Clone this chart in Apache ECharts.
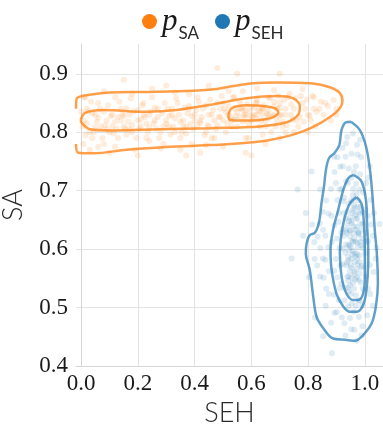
<!DOCTYPE html>
<html>
<head>
<meta charset="utf-8">
<script src="https://cdn.jsdelivr.net/npm/echarts@6/dist/echarts.min.js"></script>
<style>
  html, body { margin: 0; padding: 0; background: #fff; }
  #chart { width: 383px; height: 424px; }
</style>
</head>
<body>
<div id="chart"></div>
<script>
// Tick values for both axes
const xTicks = [0.0, 0.2, 0.4, 0.6, 0.8, 1.0];
const yTicks = [0.4, 0.5, 0.6, 0.7, 0.8, 0.9];

// Samples drawn from p_SA (SEH, SA)
const samplesSA = [
  [0.01,0.82],[0.03,0.80],[0.02,0.84],[0.05,0.83],[0.04,0.79],[0.07,0.81],[0.06,0.85],[0.09,0.82],[0.08,0.78],[0.11,0.83],
  [0.10,0.80],[0.12,0.86],[0.14,0.82],[0.13,0.79],[0.16,0.84],[0.15,0.81],[0.18,0.80],[0.17,0.83],[0.20,0.82],[0.19,0.77],
  [0.22,0.85],[0.21,0.81],[0.24,0.83],[0.23,0.79],[0.26,0.82],[0.25,0.86],[0.28,0.80],[0.27,0.84],[0.30,0.82],[0.29,0.78],
  [0.32,0.83],[0.31,0.81],[0.34,0.85],[0.33,0.80],[0.36,0.82],[0.35,0.79],[0.38,0.84],[0.37,0.81],[0.40,0.83],[0.39,0.78],
  [0.42,0.82],[0.41,0.86],[0.44,0.80],[0.43,0.84],[0.46,0.83],[0.45,0.81],[0.48,0.85],[0.47,0.79],[0.50,0.82],[0.49,0.84],
  [0.52,0.83],[0.51,0.80],[0.54,0.86],[0.53,0.82],[0.56,0.84],[0.55,0.81],[0.58,0.83],[0.57,0.87],[0.60,0.82],[0.59,0.79],
  [0.62,0.85],[0.61,0.83],[0.64,0.84],[0.63,0.81],[0.66,0.86],[0.65,0.82],[0.68,0.83],[0.67,0.80],[0.70,0.85],[0.69,0.82],
  [0.72,0.84],[0.71,0.81],[0.74,0.83],[0.73,0.86],[0.76,0.82],[0.75,0.84],[0.78,0.85],[0.80,0.83],[0.82,0.86],[0.84,0.84],
  [0.86,0.85],[0.02,0.815],[0.06,0.825],[0.09,0.805],[0.12,0.818],[0.15,0.828],[0.18,0.812],[0.21,0.822],[0.24,0.808],[0.27,0.826],
  [0.30,0.814],[0.33,0.824],[0.36,0.81],[0.39,0.828],[0.42,0.816],[0.45,0.83],[0.48,0.812],[0.51,0.834],[0.54,0.822],[0.57,0.838],
  [0.60,0.828],[0.63,0.836],[0.66,0.824],[0.69,0.84],[0.72,0.83],[0.58,0.825],[0.61,0.842],[0.64,0.83],[0.55,0.835],[0.05,0.808],
  [0.08,0.835],[0.11,0.81],[0.14,0.84],[0.17,0.805],[0.20,0.838],[0.23,0.815],[0.26,0.842],[0.29,0.81],[0.32,0.84],[0.35,0.818],
  [0.38,0.845],[0.41,0.812],[0.44,0.846],[0.47,0.82],[0.50,0.85],[0.53,0.81],[0.56,0.852],[0.59,0.815],[0.62,0.856],[0.65,0.81],
  [0.68,0.852],[0.71,0.818],[0.74,0.848],[0.77,0.826],[0.79,0.84],[0.81,0.82],[0.83,0.835],[0.03,0.77],[0.10,0.765],[0.20,0.76],
  [0.35,0.77],[0.50,0.775],[0.65,0.78],[0.80,0.80],[0.88,0.82],[0.55,0.90],[0.45,0.88],[0.25,0.875],[0.08,0.87],[0.60,0.76],
  [0.42,0.765],[0.01,0.86],[0.30,0.88],[0.70,0.79],[0.90,0.84],[0.48,0.91],[0.75,0.80],[0.04,0.832],[0.13,0.826],[0.22,0.83],
  [0.31,0.828],[0.40,0.82],[0.49,0.826],[0.62,0.822],[0.66,0.838],[0.57,0.818],[0.16,0.796],[0.37,0.798],[0.52,0.845],[0.70,0.828],
  [0.015,0.795],[0.035,0.852],[0.055,0.818],[0.075,0.79],[0.095,0.846],[0.115,0.798],[0.135,0.852],[0.155,0.806],[0.175,0.858],[0.195,0.79],
  [0.215,0.846],[0.235,0.80],[0.255,0.815],[0.275,0.79],[0.295,0.85],[0.315,0.796],[0.335,0.858],[0.355,0.80],[0.375,0.832],[0.395,0.806],
  [0.415,0.852],[0.435,0.795],[0.455,0.856],[0.475,0.805],[0.495,0.862],[0.515,0.815],[0.535,0.86],[0.545,0.828],[0.565,0.842],[0.575,0.83],
  [0.585,0.848],[0.595,0.836],[0.605,0.826],[0.615,0.85],[0.625,0.838],[0.635,0.82],[0.645,0.846],[0.655,0.832],[0.665,0.858],[0.675,0.828],
  [0.685,0.81],[0.695,0.862],[0.705,0.83],[0.715,0.855],[0.725,0.812],[0.735,0.866],[0.745,0.822],[0.755,0.858],[0.765,0.81],[0.775,0.862],
  [0.785,0.818],[0.795,0.856],[0.805,0.828],[0.815,0.862],[0.825,0.81],[0.845,0.852],[0.855,0.83],[0.87,0.845],[0.025,0.835],[0.045,0.80],
  [0.065,0.84],[0.085,0.812],[0.105,0.828],[0.125,0.806],[0.145,0.83],[0.165,0.818],[0.185,0.836],[0.205,0.806],[0.225,0.826],[0.245,0.836],
  [0.265,0.806],[0.285,0.832],[0.305,0.84],[0.325,0.81],[0.345,0.83],[0.365,0.842],[0.385,0.814],[0.405,0.838],[0.425,0.826],[0.445,0.812],
  [0.465,0.838],[0.485,0.826],[0.505,0.84],[0.525,0.826],[0.54,0.84],[0.56,0.826],[0.58,0.838],[0.60,0.844],[0.62,0.83],[0.64,0.84],
  [0.66,0.83],[0.68,0.844],[0.70,0.842],[0.005,0.81],[0.015,0.86],[0.0,0.835],[0.008,0.78],[0.12,0.775],[0.28,0.772],[0.44,0.778],
  [0.58,0.79],[0.72,0.80],[0.38,0.865],[0.18,0.866],[0.62,0.875],[0.78,0.874],[0.68,0.872],[0.52,0.87],[0.33,0.868],[0.06,0.775],
  [0.24,0.785],[0.46,0.79],[0.64,0.796],[0.82,0.84],[0.89,0.855],[0.90,0.83],[0.15,0.89],[0.70,0.90],[0.37,0.76],[0.58,0.765]
];

// Samples drawn from p_SEH (SEH, SA)
const samplesSEH = [
  [0.951,0.603],[0.962,0.618],[0.973,0.584],[0.938,0.641],[0.984,0.612],[0.947,0.562],[0.966,0.658],[0.977,0.627],[0.931,0.594],[0.989,0.571],
  [0.953,0.683],[0.958,0.542],[0.969,0.652],[0.942,0.607],[0.981,0.589],[0.964,0.578],[0.949,0.632],[0.972,0.551],[0.927,0.623],[0.992,0.643],
  [0.957,0.597],[0.936,0.572],[0.983,0.661],[0.944,0.528],[0.971,0.694],[0.961,0.639],[0.939,0.664],[0.986,0.543],[0.952,0.583],[0.974,0.611],
  [0.963,0.561],[0.932,0.652],[0.993,0.602],[0.948,0.654],[0.968,0.521],[0.943,0.553],[0.959,0.703],[0.979,0.624],[0.954,0.614],[0.976,0.672],
  [0.956,0.591],[0.967,0.613],[0.941,0.587],[0.978,0.628],[0.952,0.648],[0.963,0.557],[0.946,0.632],[0.974,0.574],[0.987,0.606],[0.934,0.608],
  [0.958,0.667],[0.962,0.676],[0.979,0.547],[0.941,0.546],[0.988,0.633],[0.951,0.523],[0.967,0.588],[0.973,0.653],[0.943,0.678],[0.937,0.577],
  [0.918,0.703],[0.909,0.662],[0.902,0.618],[0.921,0.574],[0.912,0.533],[0.928,0.512],[0.991,0.504],[1.004,0.553],[1.003,0.628],[0.994,0.697],
  [0.983,0.728],[0.951,0.722],[0.934,0.716],[0.968,0.742],[0.942,0.502],[0.961,0.493],[0.982,0.512],[0.898,0.583],[0.893,0.641],[0.911,0.602],
  [1.002,0.593],[1.011,0.657],[0.993,0.532],[0.922,0.634],[0.917,0.541],[0.884,0.612],[0.892,0.563],[0.903,0.684],[1.012,0.614],[0.927,0.688],
  [0.861,0.623],[0.852,0.584],[0.843,0.602],[0.872,0.661],[0.881,0.703],[0.893,0.732],[0.904,0.757],[0.921,0.773],[0.938,0.792],[0.953,0.763],
  [0.972,0.778],[0.987,0.757],[1.013,0.722],[1.021,0.684],[1.028,0.623],[1.031,0.561],[1.019,0.523],[1.008,0.487],[0.992,0.468],[0.963,0.462],
  [0.928,0.473],[0.901,0.492],[0.873,0.523],[0.854,0.551],[0.832,0.572],[0.822,0.612],[0.862,0.503],[0.881,0.474],[0.913,0.741],[0.864,0.683],
  [0.841,0.644],[0.958,0.798],[1.038,0.584],[0.932,0.452],[0.971,0.443],[0.782,0.623],[0.803,0.552],[0.763,0.702],[0.824,0.483],[0.792,0.662],
  [0.853,0.451],[0.742,0.584],[0.884,0.422],[1.052,0.643],[0.812,0.733],
  [0.947,0.622],[0.964,0.593],[0.975,0.603],[0.953,0.568],[0.961,0.627],[0.972,0.638],[0.944,0.598],[0.982,0.578],[0.957,0.662],[0.966,0.548],
  [0.971,0.566],[0.936,0.628],[0.984,0.644],[0.948,0.538],[0.963,0.671],[0.977,0.663],[0.942,0.581],[0.981,0.558],[0.954,0.644],[0.958,0.612],
  [0.951,0.572],[0.968,0.633],[0.946,0.606],[0.973,0.592],[0.958,0.692],[0.962,0.532],[0.944,0.648],[0.976,0.684],[0.987,0.568],[0.933,0.632],
  [0.952,0.551],[0.969,0.712],[0.978,0.512],[0.941,0.534],[0.984,0.672],[0.938,0.553],[0.926,0.662],[0.923,0.601],[0.917,0.628],[0.914,0.572],
  [0.907,0.647],[0.903,0.552],[0.993,0.663],[0.991,0.618],[1.003,0.612],[1.002,0.668],[0.929,0.534],[0.953,0.507],[0.968,0.503],[0.962,0.732],
  [0.941,0.713],[0.924,0.682],[0.922,0.742],[0.943,0.738],[0.981,0.702],[0.882,0.657],[0.871,0.603],[0.873,0.562],[0.891,0.522],[0.898,0.713],
  [0.908,0.513],[0.948,0.482],[0.979,0.484],[1.012,0.532],[1.018,0.573],[1.022,0.642],[1.004,0.713],[0.974,0.762],[0.932,0.758],[0.911,0.702],
  [0.861,0.582],[0.853,0.633],[0.834,0.621],[0.842,0.553],[0.864,0.532],[0.893,0.491],[0.919,0.483],[0.952,0.463],[0.988,0.452],[1.028,0.503],
  [1.041,0.602],[1.032,0.662],[1.017,0.742],[0.983,0.787],[0.934,0.781],[0.892,0.758],[0.852,0.664],[0.823,0.583],[0.814,0.642],[0.843,0.702]
];

// Density contour levels, outer to inner
const contourSA = [
  [[-0.018,0.84],[-0.015,0.858],[0.043,0.865],[0.102,0.868],[0.219,0.869],[0.395,0.871],[0.478,0.874],[0.536,0.879],[0.607,0.884],
   [0.689,0.885],[0.806,0.884],[0.877,0.877],[0.912,0.867],[0.921,0.853],[0.912,0.841],[0.877,0.826],[0.818,0.809],[0.748,0.796],
   [0.630,0.784],[0.454,0.778],[0.278,0.774],[0.161,0.770],[0.043,0.764],[-0.010,0.765],[-0.018,0.78]],
  [[-0.001,0.821],[0.014,0.833],[0.079,0.838],[0.231,0.835],[0.337,0.838],[0.454,0.847],[0.583,0.858],[0.689,0.862],[0.748,0.858],
   [0.771,0.844],[0.765,0.830],[0.724,0.817],[0.630,0.810],[0.454,0.807],[0.278,0.805],[0.102,0.803],[0.032,0.805],[0.002,0.816],[-0.001,0.821]],
  [[0.519,0.828],[0.531,0.841],[0.583,0.846],[0.642,0.845],[0.683,0.841],[0.695,0.834],[0.677,0.826],[0.630,0.821],[0.571,0.820],
   [0.525,0.821],[0.519,0.828]]
];
const contourSEH = [
  [[0.951,0.818],[0.982,0.804],[1.004,0.776],[1.018,0.736],[1.027,0.690],[1.035,0.633],[1.043,0.587],[1.046,0.542],[1.039,0.502],
   [1.024,0.473],[0.994,0.453],[0.965,0.443],[0.930,0.445],[0.888,0.447],[0.853,0.465],[0.830,0.484],[0.818,0.519],[0.806,0.564],
   [0.792,0.593],[0.795,0.610],[0.806,0.624],[0.824,0.628],[0.839,0.647],[0.847,0.678],[0.856,0.707],[0.863,0.736],[0.874,0.756],
   [0.894,0.765],[0.910,0.778],[0.918,0.804],[0.933,0.817],[0.951,0.818]],
  [[0.959,0.727],[0.988,0.716],[1.004,0.684],[1.008,0.639],[1.012,0.593],[1.008,0.542],[0.996,0.507],[0.971,0.493],[0.947,0.493],
   [0.924,0.502],[0.900,0.524],[0.883,0.564],[0.879,0.599],[0.888,0.633],[0.906,0.667],[0.924,0.701],[0.941,0.721],[0.959,0.727]],
  [[0.971,0.689],[0.988,0.678],[0.996,0.650],[1.000,0.599],[1.000,0.553],[0.994,0.524],[0.976,0.513],[0.959,0.513],[0.935,0.524],
   [0.918,0.553],[0.912,0.593],[0.918,0.627],[0.930,0.656],[0.947,0.678],[0.971,0.689]]
];

const ORANGE = '#ff7f0e';
const BLUE = '#1f77b4';
const SERIF = "'Liberation Serif', 'DejaVu Serif', 'Times New Roman', serif";

function contourSeries(levels, color, tag) {
  return levels.map((pts, i) => ({
    name: tag + '-level-' + i,
    type: 'line',
    data: pts,
    showSymbol: false,
    smooth: 0.35,
    silent: true,
    z: 5,
    lineStyle: { color: color, width: 2.5 },
    clip: true
  }));
}

const chart = echarts.init(document.getElementById('chart'), null, { renderer: 'canvas' });

const tickLabelStyle = {
  fontFamily: SERIF,
  fontSize: 23,
  color: '#1a1a1a'
};
const nameStyle = {
  fontFamily: 'Lato',
  fontWeight: 300,
  fontSize: 27,
  color: '#2a2a2a'
};

chart.setOption({
  animation: false,
  backgroundColor: '#fff',
  grid: { left: 76, right: 0, top: 44, bottom: 58, containLabel: false, outerBoundsMode: 'none' },
  legend: {
    left: 137,
    top: 1,
    icon: 'circle',
    itemWidth: 15,
    itemHeight: 15,
    itemGap: 16,
    data: [
      { name: 'p_SA', itemStyle: { opacity: 1, color: ORANGE } },
      { name: 'p_SEH', itemStyle: { opacity: 1, color: BLUE } }
    ],
    formatter: n => '{p|p}{s|' + n.split('_')[1] + '}',
    textStyle: {
      rich: {
        p: { fontFamily: SERIF, fontStyle: 'italic', fontSize: 31, color: '#1a1a1a', lineHeight: 30, verticalAlign: 'middle' },
        s: { fontFamily: 'Lato', fontSize: 17, color: '#2a2a2a', lineHeight: 30, verticalAlign: 'bottom', padding: [0, 0, -6, 1] }
      }
    }
  },
  xAxis: {
    type: 'value',
    min: -0.018,
    max: 1.064,
    name: 'SEH',
    nameLocation: 'middle',
    nameGap: 28,
    nameTextStyle: nameStyle,
    axisLine: { show: true, lineStyle: { color: '#d6d6d6', width: 1 } },
    axisTick: { show: false, customValues: xTicks },
    axisLabel: {
      customValues: xTicks, margin: 6, formatter: v => v.toFixed(1),
      alignMinLabel: 'center', alignMaxLabel: 'center', hideOverlap: false,
      ...tickLabelStyle
    },
    splitLine: { show: true, lineStyle: { color: '#e4e4e4', width: 1 } }
  },
  yAxis: {
    type: 'value',
    min: 0.4,
    max: 0.951,
    name: 'SA',
    nameLocation: 'middle',
    nameGap: 49,
    nameTextStyle: nameStyle,
    axisLine: { show: true, lineStyle: { color: '#d6d6d6', width: 1 } },
    axisTick: { show: false, customValues: yTicks },
    axisLabel: {
      customValues: yTicks, margin: 8, formatter: v => v.toFixed(1),
      verticalAlignMinLabel: 'middle', verticalAlignMaxLabel: 'middle', hideOverlap: false,
      ...tickLabelStyle
    },
    splitLine: { show: true, lineStyle: { color: '#e4e4e4', width: 1 } }
  },
  series: [
    {
      name: 'p_SA',
      type: 'scatter',
      data: samplesSA,
      symbolSize: 6,
      silent: true,
      z: 2,
      itemStyle: { color: ORANGE, opacity: 0.15 }
    },
    {
      name: 'p_SEH',
      type: 'scatter',
      data: samplesSEH,
      symbolSize: 6,
      silent: true,
      z: 2,
      itemStyle: { color: BLUE, opacity: 0.14 }
    },
    ...contourSeries(contourSA, 'rgba(255,127,14,0.75)', 'SA'),
    ...contourSeries(contourSEH, 'rgba(31,119,180,0.7)', 'SEH')
  ]
});
</script>
</body>
</html>
